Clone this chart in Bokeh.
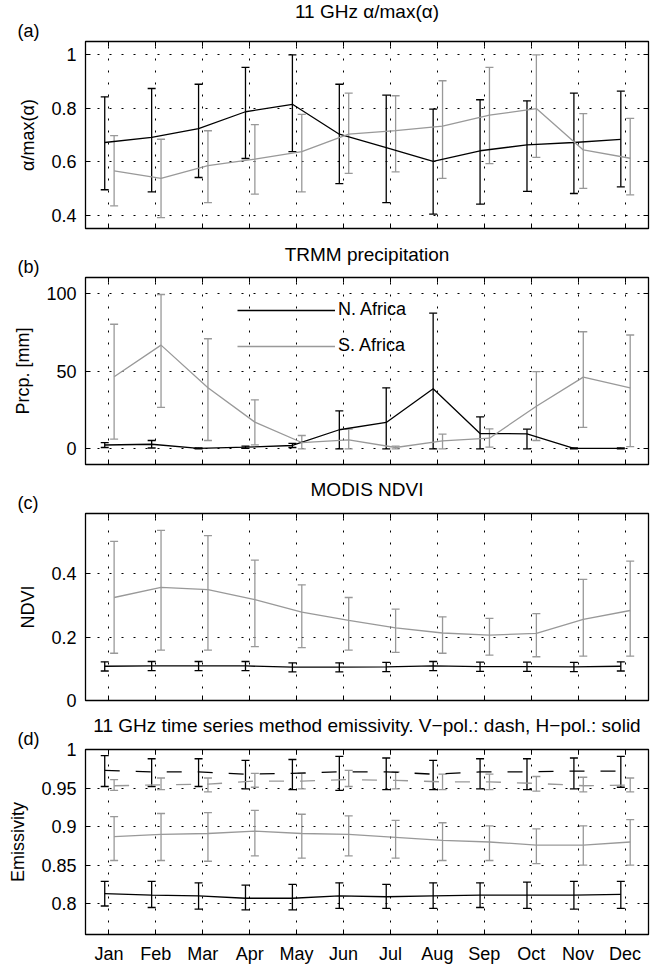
from bokeh.plotting import figure
from bokeh.layouts import column
from bokeh.models import (ColumnDataSource, Whisker, TeeHead, FixedTicker, LinearAxis,
                          Range1d, Legend, LegendItem, Title, Grid)
from bokeh.embed import file_html
from bokeh.resources import INLINE

months = ["Jan", "Feb", "Mar", "Apr", "May", "Jun", "Jul", "Aug", "Sep", "Oct", "Nov", "Dec"]

# (a) 11 GHz alpha/max(alpha)
alpha_n = [0.672, 0.691, 0.724, 0.787, 0.815, 0.703, 0.653, 0.601, 0.641, 0.663, 0.672, 0.684]
alpha_n_lo = [0.495, 0.487, 0.541, 0.612, 0.638, 0.518, 0.447, 0.404, 0.441, 0.489, 0.481, 0.506]
alpha_n_hi = [0.843, 0.874, 0.890, 0.953, 1.000, 0.890, 0.849, 0.797, 0.832, 0.828, 0.857, 0.864]
alpha_s = [0.566, 0.538, 0.585, 0.610, 0.638, 0.703, 0.716, 0.733, 0.774, 0.799, 0.644, 0.613]
alpha_s_lo = [0.435, 0.391, 0.447, 0.479, 0.487, 0.556, 0.562, 0.538, 0.593, 0.616, 0.500, 0.476]
alpha_s_hi = [0.698, 0.684, 0.716, 0.739, 0.777, 0.857, 0.847, 0.903, 0.953, 1.000, 0.780, 0.762]

# (b) TRMM precipitation [mm]
prcp_n = [2.5, 3.0, 0.4, 1.1, 2.2, 12.3, 17.0, 38.6, 9.9, 9.7, 0.4, 0.4]
prcp_n_lo = [0.9, 0.6, 0.1, 0.4, 0.9, 0.0, 0.0, 0.0, 0.0, 0.0, 0.1, 0.1]
prcp_n_hi = [4.1, 5.4, 0.7, 1.8, 3.5, 24.4, 39.2, 87.1, 20.5, 12.7, 0.7, 0.7]
prcp_s = [46.3, 66.6, 39.2, 17.2, 4.1, 5.8, 0.9, 5.2, 6.9, 27.4, 46.1, 39.2]
prcp_s_lo = [6.3, 26.7, 5.4, 2.6, 0.0, 0.0, 0.0, 0.0, 1.1, 5.4, 13.8, 1.5]
prcp_s_hi = [80.0, 99.1, 70.7, 31.5, 8.6, 12.7, 1.8, 9.5, 12.9, 49.6, 75.2, 73.1]

# (c) MODIS NDVI
ndvi_n = [0.108, 0.109, 0.109, 0.109, 0.105, 0.105, 0.106, 0.109, 0.107, 0.107, 0.106, 0.108]
ndvi_n_lo = [0.093, 0.094, 0.094, 0.094, 0.090, 0.090, 0.091, 0.094, 0.092, 0.092, 0.091, 0.093]
ndvi_n_hi = [0.122, 0.123, 0.123, 0.123, 0.119, 0.119, 0.120, 0.123, 0.121, 0.121, 0.120, 0.122]
ndvi_s = [0.325, 0.357, 0.350, 0.318, 0.279, 0.253, 0.229, 0.213, 0.206, 0.212, 0.256, 0.284]
ndvi_s_lo = [0.149, 0.159, 0.159, 0.170, 0.167, 0.159, 0.152, 0.149, 0.143, 0.138, 0.140, 0.140]
ndvi_s_hi = [0.502, 0.537, 0.520, 0.443, 0.365, 0.325, 0.288, 0.264, 0.259, 0.274, 0.382, 0.440]

# (d) 11 GHz emissivity, H-pol (solid) and V-pol (dash)
hpol_n = [0.813, 0.811, 0.810, 0.807, 0.807, 0.810, 0.809, 0.810, 0.811, 0.811, 0.811, 0.812]
hpol_n_lo = [0.797, 0.795, 0.793, 0.792, 0.792, 0.794, 0.794, 0.794, 0.795, 0.794, 0.793, 0.794]
hpol_n_hi = [0.829, 0.829, 0.827, 0.824, 0.825, 0.827, 0.825, 0.827, 0.827, 0.828, 0.829, 0.829]
hpol_s = [0.887, 0.890, 0.891, 0.894, 0.891, 0.890, 0.886, 0.882, 0.880, 0.876, 0.876, 0.880]
hpol_s_lo = [0.856, 0.856, 0.855, 0.862, 0.859, 0.862, 0.859, 0.856, 0.856, 0.852, 0.850, 0.850]
hpol_s_hi = [0.913, 0.917, 0.918, 0.921, 0.916, 0.914, 0.908, 0.905, 0.901, 0.897, 0.901, 0.909]
vpol_n = [0.973, 0.971, 0.971, 0.968, 0.969, 0.971, 0.971, 0.968, 0.971, 0.971, 0.972, 0.972]
vpol_n_lo = [0.952, 0.952, 0.952, 0.949, 0.948, 0.947, 0.948, 0.948, 0.949, 0.948, 0.949, 0.951]
vpol_n_hi = [0.992, 0.988, 0.988, 0.986, 0.987, 0.991, 0.989, 0.986, 0.988, 0.988, 0.989, 0.991]
vpol_s = [0.953, 0.954, 0.955, 0.959, 0.959, 0.961, 0.960, 0.958, 0.958, 0.956, 0.953, 0.954]
vpol_s_lo = [0.947, 0.948, 0.945, 0.951, 0.949, 0.952, 0.949, 0.948, 0.948, 0.946, 0.945, 0.945]
vpol_s_hi = [0.961, 0.963, 0.963, 0.969, 0.969, 0.973, 0.971, 0.968, 0.968, 0.965, 0.964, 0.963]

FONT = "Liberation Sans"
FS = "18px"
TFS = "19px"
BLACK = "#000000"
GRAY = "#999999"
OFF_N = -0.09
OFF_S = 0.11
W = 650
BL, BR, FH = 85, 2, 187
month_pos = [i + 1 for i in range(len(months))]


def fmt(v):
    return ("%g" % v)


def tick_only_axis(ticks):
    # axis drawing inward tick marks only (minor ticks => no labels)
    return LinearAxis(ticker=FixedTicker(ticks=[], minor_ticks=ticks),
                      minor_tick_in=5, minor_tick_out=0, minor_tick_line_color="black",
                      major_tick_line_color=None, axis_line_color="black")


def make_panel(height, top_border, ylo, yhi, yticks, ylabel, title, tag, bottom_labels,
               title_standoff):
    p = figure(width=W, height=height, output_backend="svg", toolbar_location=None,
               x_range=Range1d(0.5, 12.5), y_range=Range1d(ylo, yhi),
               min_border_left=BL, min_border_right=BR, min_border_top=top_border,
               min_border_bottom=height - top_border - FH, title=None,
               x_axis_type=None)
    p.background_fill_color = "white"
    p.border_fill_color = "white"
    p.outline_line_color = "black"
    p.outline_line_width = 1.3

    if bottom_labels:
        xax = LinearAxis(ticker=FixedTicker(ticks=month_pos), major_tick_in=5, major_tick_out=0,
                         minor_tick_line_color=None, axis_line_color="black",
                         major_tick_line_color="black", major_label_text_font=FONT,
                         major_label_text_font_size=FS, major_label_text_color="black",
                         major_label_standoff=9,
                         major_label_overrides={m: lab for m, lab in zip(month_pos, months)})
    else:
        xax = tick_only_axis(month_pos)
    p.add_layout(xax, "below")

    yt = FixedTicker(ticks=yticks)
    for ax in p.yaxis:
        ax.ticker = yt
        ax.major_tick_in = 5
        ax.major_tick_out = 0
        ax.minor_tick_line_color = None
        ax.axis_line_color = "black"
        ax.major_tick_line_color = "black"
        ax.major_label_text_font = FONT
        ax.major_label_text_font_size = FS
        ax.major_label_text_color = "black"
        ax.major_label_standoff = 9
        ax.major_label_overrides = {t: fmt(t) for t in yticks}
        ax.axis_label = ylabel
        ax.axis_label_text_font = FONT
        ax.axis_label_text_font_size = FS
        ax.axis_label_text_font_style = "normal"
        ax.axis_label_text_color = "black"
        ax.axis_label_standoff = 10

    p.add_layout(tick_only_axis(month_pos), "above")
    p.add_layout(tick_only_axis(yticks), "right")

    # panel tag, left of the frame, just above it
    p.add_layout(Title(text=tag, align="left", offset=17 - BL, text_font=FONT,
                       text_font_size=FS, text_font_style="normal", text_color="black",
                       standoff=1), "above")
    # panel title
    p.add_layout(Title(text=title, align="center", text_font=FONT, text_font_size=TFS,
                       text_font_style="normal", text_color="black", standoff=title_standoff),
                 "above")

    p.ygrid.ticker = yt
    p.ygrid.grid_line_color = "black"
    p.ygrid.grid_line_dash = "2 10"
    p.ygrid.grid_line_width = 1
    xg = Grid(dimension=0, ticker=FixedTicker(ticks=month_pos), grid_line_color="black",
              grid_line_dash="2 10", grid_line_width=1)
    p.add_layout(xg)
    return p


def series(p, mean, lo, hi, color, off, dash="solid"):
    xs = [m + off for m in month_pos]
    src = ColumnDataSource(dict(x=xs, y=mean, lo=lo, hi=hi))
    w = Whisker(source=src, base="x", lower="lo", upper="hi", line_color=color, line_width=1.3,
                upper_head=TeeHead(size=8, line_color=color, line_width=1.3),
                lower_head=TeeHead(size=8, line_color=color, line_width=1.3))
    p.add_layout(w)
    r = p.line("x", "y", source=src, line_color=color, line_width=1.3, line_dash=dash)
    return r


pa = make_panel(236, 41, 0.35, 1.05, [0.4, 0.6, 0.8, 1.0], "α/max(α)", "11 GHz α/max(α)",
                "(a)", False, -7)
series(pa, alpha_n, alpha_n_lo, alpha_n_hi, BLACK, OFF_N)
series(pa, alpha_s, alpha_s_lo, alpha_s_hi, GRAY, OFF_S)

pb = make_panel(236, 41, -10, 110, [0, 50, 100], "Prcp. [mm]", "TRMM precipitation", "(b)",
                False, -20)
rn = series(pb, prcp_n, prcp_n_lo, prcp_n_hi, BLACK, OFF_N)
rs = series(pb, prcp_s, prcp_s_lo, prcp_s_hi, GRAY, OFF_S)
leg = Legend(items=[LegendItem(label="N. Africa", renderers=[rn]),
                    LegendItem(label="S. Africa", renderers=[rs])],
             location=(152, 108), glyph_width=98, glyph_height=20, label_height=20,
             label_standoff=3, spacing=15, padding=10, margin=0,
             label_text_font=FONT, label_text_font_size=FS, label_text_color="black",
             background_fill_alpha=0, border_line_color=None)
pb.add_layout(leg)

pc = make_panel(240, 41, 0, 0.59, [0, 0.2, 0.4], "NDVI", "MODIS NDVI", "(c)", False, -18)
series(pc, ndvi_n, ndvi_n_lo, ndvi_n_hi, BLACK, OFF_N)
series(pc, ndvi_s, ndvi_s_lo, ndvi_s_hi, GRAY, OFF_S)

pd = make_panel(254, 37, 0.76, 1.0, [0.8, 0.85, 0.9, 0.95, 1.0], "Emissivity",
                "11 GHz time series method emissivity. V−pol.: dash, H−pol.: solid", "(d)",
                True, -19)
series(pd, vpol_n, vpol_n_lo, vpol_n_hi, BLACK, OFF_N, "15 16")
series(pd, vpol_s, vpol_s_lo, vpol_s_hi, GRAY, OFF_S, "15 16")
series(pd, hpol_n, hpol_n_lo, hpol_n_hi, BLACK, OFF_N)
series(pd, hpol_s, hpol_s_lo, hpol_s_hi, GRAY, OFF_S)

layout = column(pa, pb, pc, pd, spacing=0)
open("out.html", "w").write(file_html(layout, INLINE))
